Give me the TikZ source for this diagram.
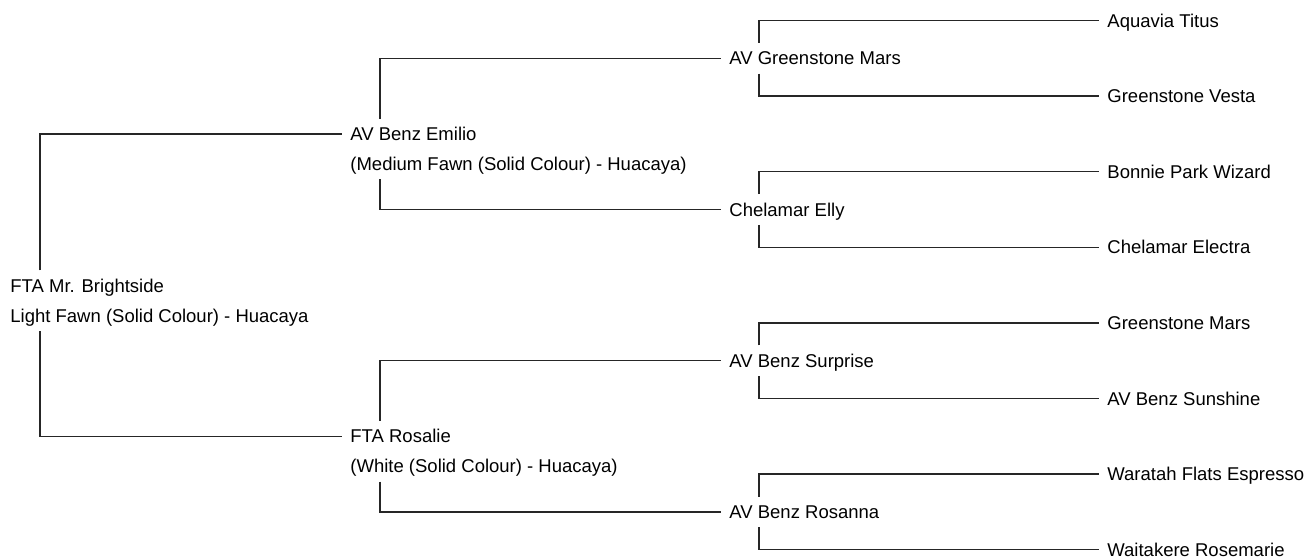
\documentclass[tikz,border=0pt]{standalone}
\usepackage{fontspec}
\setmainfont{Liberation Sans}

\begin{document}
\begin{tikzpicture}[x=0.5pt,y=-0.5pt,
	alpaca/.style={anchor=base west,inner xsep=4pt,inner ysep=3.8pt,text height=7pt,text depth=0.4pt,font=\fontsize{9.25}{11}\selectfont},
	link/.style={line width=0.65pt,draw=black!85}]
		\useasboundingbox (0,0) rectangle (1309,557);
		% generation 0
		\node[alpaca] (brightside) at (2,292.3) {FTA Mr. Brightside};
		\node[alpaca] (brightsidecol) at (2,322.3) {Light Fawn (Solid Colour) - Huacaya};
		% generation 1
		\node[alpaca] (emilio) at (342,140.5) {AV Benz Emilio};
		\node[alpaca] (emiliocol) at (342,170.5) {(Medium Fawn (Solid Colour) - Huacaya)};
		\node[alpaca] (rosalie) at (342,442.9) {FTA Rosalie};
		\node[alpaca] (rosaliecol) at (342,472.9) {(White (Solid Colour) - Huacaya)};
		% generation 2
		\node[alpaca] (gmars) at (721,64.9) {AV Greenstone Mars};
		\node[alpaca] (elly) at (721,216.1) {Chelamar Elly};
		\node[alpaca] (surprise) at (721,367.3) {AV Benz Surprise};
		\node[alpaca] (rosanna) at (721,518.5) {AV Benz Rosanna};
		% generation 3
		\node[alpaca] (titus) at (1099,27.1) {Aquavia Titus};
		\node[alpaca] (vesta) at (1099,102.7) {Greenstone Vesta};
		\node[alpaca] (wizard) at (1099,178.3) {Bonnie Park Wizard};
		\node[alpaca] (electra) at (1099,253.9) {Chelamar Electra};
		\node[alpaca] (mars) at (1099,329.5) {Greenstone Mars};
		\node[alpaca] (sunshine) at (1099,405.1) {AV Benz Sunshine};
		\node[alpaca] (espresso) at (1099,480.7) {Waratah Flats Espresso};
		\node[alpaca] (rosemarie) at (1099,556.3) {Waitakere Rosemarie};
		% sire and dam links
		\draw[link] ([xshift=19pt]brightside.north west) |- (emilio.west);
		\draw[link] ([xshift=19pt]brightsidecol.south west) |- (rosalie.west);
		\draw[link] ([xshift=19pt]emilio.north west) |- (gmars.west);
		\draw[link] ([xshift=19pt]emiliocol.south west) |- (elly.west);
		\draw[link] ([xshift=19pt]rosalie.north west) |- (surprise.west);
		\draw[link] ([xshift=19pt]rosaliecol.south west) |- (rosanna.west);
		\draw[link] ([xshift=19pt]gmars.north west) |- (titus.west);
		\draw[link] ([xshift=19pt]gmars.south west) |- (vesta.west);
		\draw[link] ([xshift=19pt]elly.north west) |- (wizard.west);
		\draw[link] ([xshift=19pt]elly.south west) |- (electra.west);
		\draw[link] ([xshift=19pt]surprise.north west) |- (mars.west);
		\draw[link] ([xshift=19pt]surprise.south west) |- (sunshine.west);
		\draw[link] ([xshift=19pt]rosanna.north west) |- (espresso.west);
		\draw[link] ([xshift=19pt]rosanna.south west) |- (rosemarie.west);
\end{tikzpicture}
\end{document}
